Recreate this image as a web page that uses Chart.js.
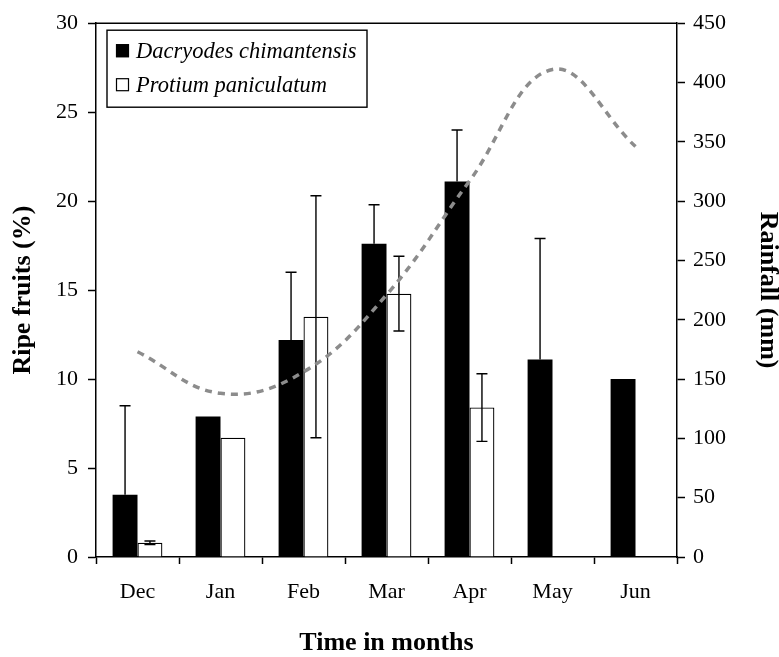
<!DOCTYPE html>
<html>
<head>
<meta charset="utf-8">
<script src="https://cdn.jsdelivr.net/npm/chart.js@4/dist/chart.umd.min.js"></script>
<style>
  html, body { margin: 0; padding: 0; background: #fff; }
  canvas { display: block; }
</style>
</head>
<body>
<canvas id="c" width="779" height="657"></canvas>
<script>
// Monthly share of ripe fruits (%) for two species, with rainfall (mm)
const months = ['Dec', 'Jan', 'Feb', 'Mar', 'Apr', 'May', 'Jun'];
const dacryodes = [3.5, 7.9, 12.2, 17.6, 21.1, 11.1, 10.0];
const dacryodesErr = [5.0, null, 3.8, 2.2, 2.9, 6.8, null];
const protium = [0.8, 6.7, 13.5, 14.8, 8.4, null, null];
const protiumErr = [0.1, null, 6.8, 2.1, 1.9, null, null];
const rainfall = [173, 138, 156, 221, 317, 411, 346];
const fruitTicks = [0, 5, 10, 15, 20, 25, 30];
const rainTicks = [0, 50, 100, 150, 200, 250, 300, 350, 400, 450];

const SERIF = "'Liberation Serif', 'Times New Roman', serif";

// Error bars drawn right after each bar dataset (so the rainfall line stays on top)
const errorBars = {
  id: 'errorBars',
  afterDatasetDraw(chart, args) {
    const ds = chart.data.datasets[args.index];
    if (!ds.errors) return;
    const meta = args.meta;
    const yScale = chart.scales[meta.yAxisID];
    const ctx = chart.ctx;
    ctx.save();
    ctx.strokeStyle = '#000';
    ctx.lineWidth = 1.4;
    const cap = 5.5;
    meta.data.forEach((bar, i) => {
      const v = ds.data[i], e = ds.errors[i];
      if (v == null || e == null) return;
      const yTop = yScale.getPixelForValue(v + e);
      const yBot = ds.errorMode === 'both' ? yScale.getPixelForValue(v - e) : yScale.getPixelForValue(v);
      const x = bar.x;
      ctx.beginPath();
      ctx.moveTo(x, yTop); ctx.lineTo(x, yBot);
      ctx.moveTo(x - cap, yTop); ctx.lineTo(x + cap, yTop);
      if (ds.errorMode === 'both') { ctx.moveTo(x - cap, yBot); ctx.lineTo(x + cap, yBot); }
      ctx.stroke();
    });
    ctx.restore();
  }
};

// Closing line along the top of the plot frame
const frameTop = {
  id: 'frameTop',
  afterDraw(chart) {
    const {ctx, chartArea: a} = chart;
    ctx.save();
    ctx.strokeStyle = '#000';
    ctx.lineWidth = 1.5;
    ctx.beginPath();
    ctx.moveTo(a.left, a.top);
    ctx.lineTo(a.right, a.top);
    ctx.stroke();
    ctx.restore();
  }
};

// Boxed legend in the upper-left corner of the plot
const boxedLegend = {
  id: 'boxedLegend',
  afterDraw(chart) {
    const ctx = chart.ctx;
    const a = chart.chartArea;
    const bx = a.left + 11, by = a.top + 7, bw = 260, bh = 77;
    ctx.save();
    ctx.fillStyle = '#fff';
    ctx.fillRect(bx, by, bw, bh);
    ctx.strokeStyle = '#000';
    ctx.lineWidth = 1.4;
    ctx.strokeRect(bx, by, bw, bh);
    const rows = chart.data.datasets.filter(d => d.type === 'bar');
    ctx.font = "italic 22.5px " + SERIF;
    ctx.textBaseline = 'alphabetic';
    ctx.textAlign = 'left';
    rows.forEach((d, i) => {
      const base = by + 28 + i * 34;
      const sq = 13;
      const sx = bx + 9, sy = base - 14;
      ctx.fillStyle = d.backgroundColor;
      ctx.fillRect(sx, sy, sq, sq);
      ctx.lineWidth = 1.2;
      ctx.strokeStyle = '#000';
      ctx.strokeRect(sx + 0.5, sy + 0.5, sq - 1, sq - 1);
      ctx.fillStyle = '#000';
      ctx.fillText(d.label, bx + 29, base);
    });
    ctx.restore();
  }
};

const tickFont = { family: SERIF, size: 22 };
const titleFont = { family: SERIF, size: 26, weight: 'bold', lineHeight: 0.5 };

new Chart(document.getElementById('c'), {
  data: {
    labels: months,
    datasets: [
      {
        type: 'line',
        label: 'Rainfall',
        data: rainfall,
        yAxisID: 'y1',
        borderColor: '#8c8c8c',
        borderWidth: 3.5,
        borderDash: [7, 6],
        borderCapStyle: 'butt',
        tension: 0.4,
        pointRadius: 0,
        fill: false,
        order: 0
      },
      {
        type: 'bar',
        label: 'Dacryodes chimantensis',
        data: dacryodes,
        errors: dacryodesErr,
        errorMode: 'up',
        yAxisID: 'y',
        backgroundColor: '#000',
        borderColor: '#000',
        borderWidth: 0,
        order: 1
      },
      {
        type: 'bar',
        label: 'Protium paniculatum',
        data: protium,
        errors: protiumErr,
        errorMode: 'both',
        yAxisID: 'y',
        backgroundColor: '#fff',
        borderColor: '#000',
        borderWidth: 1.3,
        order: 1
      }
    ]
  },
  options: {
    responsive: false,
    animation: false,
    devicePixelRatio: 1,
    layout: { padding: { top: 19, left: 0, right: 0, bottom: 0 } },
    datasets: {
      bar: { categoryPercentage: 0.6, barPercentage: 1.0 }
    },
    plugins: {
      legend: { display: false },
      tooltip: { enabled: false }
    },
    scales: {
      x: {
        offset: true,
        grid: { offset: true, drawOnChartArea: false, drawTicks: true, tickLength: 7, tickColor: '#000', tickWidth: 1.5 },
        border: { color: '#000', width: 1.5 },
        ticks: { color: '#000', font: tickFont, padding: 15, maxRotation: 0 },
        title: { display: true, text: 'Time in months', color: '#000', font: titleFont, padding: { top: 0, bottom: 7 } },
        afterFit(s) { s.height = 100; }
      },
      y: {
        position: 'left',
        min: 0,
        max: fruitTicks[fruitTicks.length - 1],
        afterBuildTicks(s) { s.ticks = fruitTicks.map(v => ({ value: v })); },
        grid: { drawOnChartArea: false, drawTicks: true, tickLength: 8, tickColor: '#000', tickWidth: 1.5 },
        border: { color: '#000', width: 1.5 },
        ticks: { color: '#000', font: tickFont, padding: 10 },
        title: { display: true, text: 'Ripe fruits (%)', color: '#000', font: titleFont, padding: { top: 16.5, bottom: 0 } },
        afterFit(s) { s.width = 96; }
      },
      y1: {
        position: 'right',
        min: 0,
        max: rainTicks[rainTicks.length - 1],
        afterBuildTicks(s) { s.ticks = rainTicks.map(v => ({ value: v })); },
        grid: { drawOnChartArea: false, drawTicks: true, tickLength: 8, tickColor: '#000', tickWidth: 1.5 },
        border: { color: '#000', width: 1.5 },
        ticks: { color: '#000', font: tickFont, padding: 8 },
        title: { display: true, text: 'Rainfall (mm)', color: '#000', font: titleFont, padding: { top: 5, bottom: 0 } },
        afterFit(s) { s.width = 102; }
      }
    }
  },
  plugins: [errorBars, frameTop, boxedLegend]
});
</script>
</body>
</html>
